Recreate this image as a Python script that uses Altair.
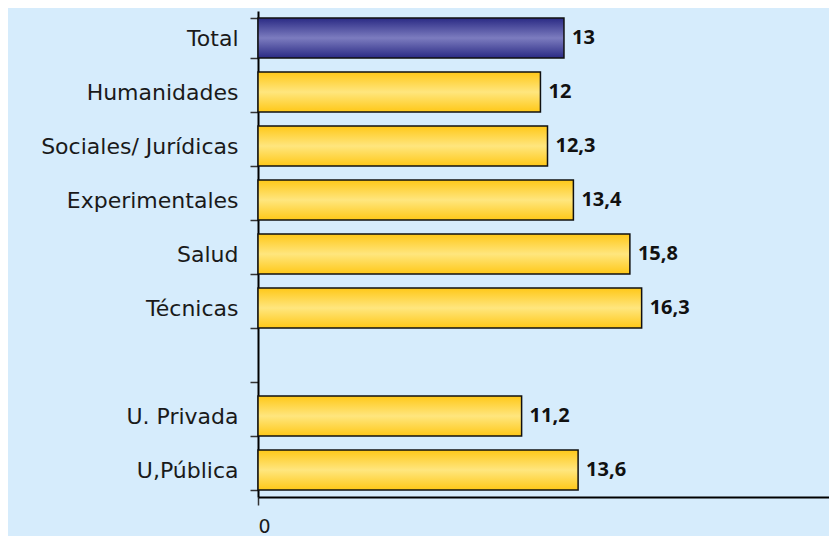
import altair as alt
import pandas as pd

categories = ["Total", "Humanidades", "Sociales/ Jurídicas", "Experimentales",
              "Salud", "Técnicas", " ", "U. Privada", "U,Pública"]
values = [13, 12, 12.3, 13.4, 15.8, 16.3, None, 11.2, 13.6]
value_labels = ["13", "12", "12,3", "13,4", "15,8", "16,3", "", "11,2", "13,6"]
groups = ["total", "area", "area", "area", "area", "area", "none", "univ", "univ"]

df = pd.DataFrame({"cat": categories, "value": values, "label": value_labels, "group": groups})

yenc = alt.Y("cat:N", sort=categories,
             scale=alt.Scale(domain=categories, paddingInner=0.26, paddingOuter=0.13),
             axis=alt.Axis(title=None, tickBand="extent", tickSize=8, tickColor="#333",
                           tickWidth=1.5, domainColor="#000", domainWidth=2,
                           labelFont="DejaVu Sans", labelFontSize=22, labelColor="#1a1a1a",
                           labelPadding=12, labelLimit=400, grid=False))
xenc = alt.X("value:Q", scale=alt.Scale(domain=[0, 24.26], nice=False, zero=True),
             axis=alt.Axis(title=None, values=[0], tickSize=8, tickColor="#333", tickWidth=1.5,
                           domainColor="#000", domainWidth=2, labelFont="DejaVu Sans",
                           labelFontSize=19, labelColor="#1a1a1a", labelPadding=12,
                           grid=False))

blue = alt.Gradient(gradient="linear", x1=0, y1=0, x2=0, y2=1,
                    stops=[alt.GradientStop(color="#2a2a84", offset=0),
                           alt.GradientStop(color="#7c7cbf", offset=0.5),
                           alt.GradientStop(color="#2a2a84", offset=1)])
yellow = alt.Gradient(gradient="linear", x1=0, y1=0, x2=0, y2=1,
                      stops=[alt.GradientStop(color="#ffc818", offset=0),
                             alt.GradientStop(color="#ffe67e", offset=0.5),
                             alt.GradientStop(color="#ffc818", offset=1)])

base = alt.Chart(df).transform_filter("isValid(datum.value)")

bars_total = base.transform_filter("datum.group == 'total'").mark_bar(
    color=blue, stroke="#111", strokeWidth=1.5).encode(x=xenc, y=yenc)
bars_other = base.transform_filter("datum.group != 'total'").mark_bar(
    color=yellow, stroke="#111", strokeWidth=1.5).encode(x=xenc, y=yenc)
text = base.mark_text(align="left", dx=8, fontWeight="bold", fontSize=20,
                      font="Open Sans", color="#111").encode(x=xenc, y=yenc, text="label:N")

chart = alt.layer(bars_total, bars_other, text).properties(
    width=571, height=486,
    autosize=alt.AutoSizeParams(type="none"),
    padding={"left": 250, "top": 3, "right": 0, "bottom": 39},
    background="#d6ecfc",
).configure_view(stroke=None)

chart.save("out.html", embed_options={"renderer": "svg", "actions": False})
